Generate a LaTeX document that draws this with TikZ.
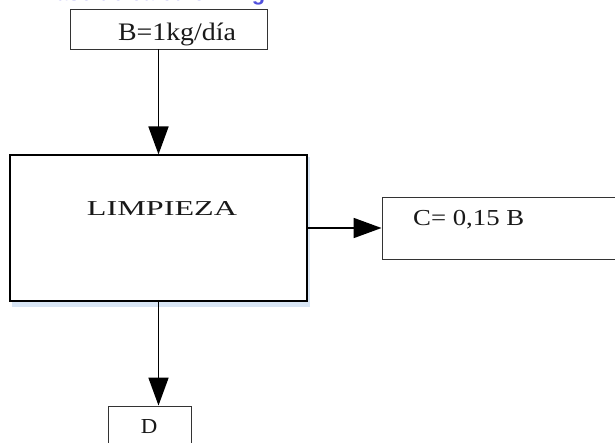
\documentclass[tikz,border=0pt]{standalone}
\usepackage{fontspec}
\setmainfont{Liberation Serif}
\newfontfamily\titlefont{Liberation Sans}
\usetikzlibrary{arrows.meta}
\definecolor{shadowblue}{RGB}{216,229,244}
\definecolor{titleblue}{RGB}{80,80,220}
\begin{document}
\begin{tikzpicture}[x=1pt,y=-1pt,
  box/.style={draw=black!80,line width=0.9pt,fill=white,inner sep=0pt},
  lbl/.style={inner sep=0pt,anchor=base,text=black!90},
  flow/.style={draw=black,line width=1.8pt,-{Triangle[length=28pt,width=20pt]}}]
\useasboundingbox (0,0) rectangle (615,442);
\clip (0,0) rectangle (615,442);
% clipped title
\node[inner sep=0pt,anchor=base west] (title) at (40,0.2)
  {\titlefont\bfseries\color{titleblue}\resizebox{225pt}{!}{Base de cálculo: 1 kg}};
% shadow of main box
\fill[shadowblue] (12,157) rectangle (310,307);
% boxes
\node[box,minimum width=197pt,minimum height=40pt] (B) at (168.5,29) {};
\node[box,draw=black,line width=1.1pt,minimum width=297pt,minimum height=146pt] (L) at (158.5,228) {};
\node[box,minimum width=268pt,minimum height=62pt] (C) at (516,228) {};
\node[box,minimum width=83pt,minimum height=64pt] (D) at (149.5,438) {};
% labels
\node[lbl] (tB) at (177,40) {\resizebox{118pt}{17.5pt}{B=1kg/día}};
\node[lbl] (tL) at (162,215) {\resizebox{150pt}{14pt}{LIMPIEZA}};
\node[lbl,anchor=base west] (tC) at (413,225) {\resizebox{111pt}{15.2pt}{C= 0,15 B}};
\node[lbl] (tD) at (149,433) {\resizebox{16.5pt}{14pt}{D}};
% connectors
\draw[flow] (B.south -| L.north) -- (L.north);
\draw[flow] (L.east) -- (C.west);
\draw[flow] (L.south) -- (L.south |- D.north);
\end{tikzpicture}
\end{document}
